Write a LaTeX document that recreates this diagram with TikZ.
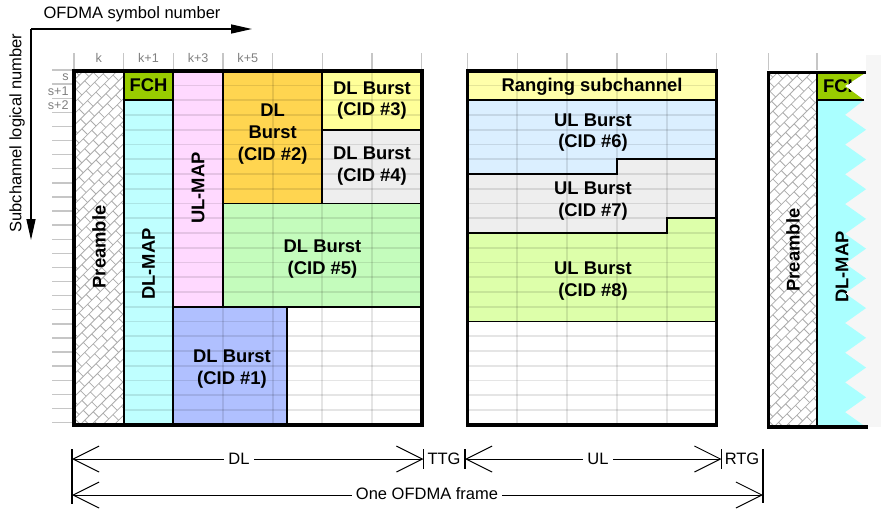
\documentclass[tikz,border=0pt]{standalone}
\usepackage{fontspec}
\setmainfont{Liberation Sans}
\usetikzlibrary{arrows.meta}
\usetikzlibrary{calc}

\definecolor{fchgreen}{RGB}{153,204,0}
\definecolor{mapcyan}{RGB}{191,255,255}
\definecolor{mapcyanr}{RGB}{170,255,255}
\definecolor{ulmappink}{RGB}{255,217,255}
\definecolor{burstorange}{RGB}{255,213,80}
\definecolor{burstyellow}{RGB}{255,255,153}
\definecolor{burstgray}{RGB}{238,238,238}
\definecolor{burstgreen}{RGB}{196,252,188}
\definecolor{burstblue}{RGB}{176,192,255}
\definecolor{rangingyellow}{RGB}{255,255,170}
\definecolor{burstsky}{RGB}{219,239,255}
\definecolor{burstlime}{RGB}{221,255,170}
\definecolor{sidegray}{RGB}{246,246,246}

\tikzset{
  frame/.style={line width=1.8pt},
  cell/.style={draw=black, line width=0.9pt},
  gridline/.style={draw=black, draw opacity=0.1, line width=0.9pt},
  tickline/.style={draw=gray!45, line width=0.7pt},
  ticklabel/.style={text=gray, font=\fontsize{6.3}{7}\selectfont, inner sep=0pt},
  lbl/.style={font=\fontsize{9.2}{10.8}\selectfont\bfseries, align=center, inner sep=0pt},
  axis/.style={line width=0.75pt, -{Triangle[length=10.5pt,width=4.5pt]}},
  axistext/.style={font=\fontsize{8.25}{10}\selectfont, inner sep=0pt},
  dim/.style={line width=0.5pt, {Straight Barb[length=13pt,width=13pt]}-{Straight Barb[length=13pt,width=13pt]}},
  bar/.style={line width=0.6pt},
  dimtext/.style={font=\fontsize{8.25}{10}\selectfont, fill=white, inner sep=2pt},
  brickline/.style={draw=gray!65, line width=0.4pt},
}

% diagonal bricks inside a box
\newcommand{\hatchbricks}[4]{%
  \begin{scope}
    \clip (#1,#2) rectangle (#3,#4);
    \begin{scope}[shift={({(#1+#3)/2},{(#2+#4)/2})}, rotate=45]
      \foreach \v in {-24,...,24}{
        \pgfmathtruncatemacro{\brickoff}{mod(\v+100,2)*6}
        \draw[brickline] (-190,\v*8) -- (190,\v*8)
          foreach \u in {-16,...,16}{ (\u*12+\brickoff,\v*8) -- ++(0,8) };
      }
    \end{scope}
  \end{scope}}

\newcommand{\fchnotch}{(817,72.5) -- (866,72.5) -- (845,86) -- (864,100) -- (817,100) -- cycle}
\newcommand{\mapzigzag}{(817,100) -- (864,100)
  foreach \k in {0,...,10}{ -- (845,{100+29.73*(\k+0.5)}) -- (866,{100+29.73*(\k+1)}) }
  -- (817,427) -- cycle}

\begin{document}
\begin{tikzpicture}[x=0.5pt,y=-0.5pt]
\fill[white] (0,0) rectangle (881,509);
\useasboundingbox (0,0) rectangle (881,509);

% axes
\coordinate (orig) at (31,29);
\coordinate (symend) at (252,29);
\coordinate (subend) at (31,240);
\draw[axis] (orig) -- (symend);
\draw[axis] (orig) -- (subend);
\node[axistext, anchor=base] (symlabel) at (132,18.3) {OFDMA symbol number};
\node[axistext, rotate=90] (sublabel) at (17,133) {Subchannel logical number};

% ticks
\foreach \j in {0,...,7} \draw[tickline] ({74+49.67*\j},53) -- ({74+49.67*\j},70);
\foreach \j in {0,...,5} \draw[tickline] ({467.5+49.8*\j},53) -- ({467.5+49.8*\j},70);
\foreach \x in {768.3,817} \draw[tickline] (\x,53) -- (\x,70);
\foreach \t [count=\j from 0] in {k,k+1,k+3,k+5}
  \node[ticklabel] (col\j) at ({98.8+49.67*\j},57.5) {\t};
\foreach \i in {0,...,25} \draw[tickline] (52,{70+14.1*\i}) -- (72,{70+14.1*\i});
\foreach \t [count=\i from 0] in {s,s+1,s+2}
  \node[ticklabel, anchor=east] (row\i) at (69,{77+14.1*\i}) {\t};

% DL subframe
\draw[cell, fill=white] (74,70.7) rectangle (123.7,424.7);
\hatchbricks{74}{70.7}{123.7}{424.7}
\draw[cell] (74,70.7) rectangle (123.7,424.7);
\draw[cell, fill=fchgreen] (123.7,70.7) rectangle (173.3,100.2);
\draw[cell, fill=mapcyan] (123.7,100.2) rectangle (173.3,424.7);
\draw[cell, fill=ulmappink] (173.3,70.7) rectangle (223,306.7);
\draw[cell, fill=burstorange] (223,70.7) rectangle (322.3,203.45);
\draw[cell, fill=burstyellow] (322.3,70.7) rectangle (421.7,129.7);
\draw[cell, fill=burstgray] (322.3,129.7) rectangle (421.7,203.45);
\draw[cell, fill=burstgreen] (223,203.45) rectangle (421.7,306.7);
\draw[cell, fill=burstblue] (173.3,306.7) rectangle (286.7,424.7);
\foreach \i in {2,...,23} \draw[gridline] (123.7,{70.7+14.75*\i}) -- (421.7,{70.7+14.75*\i});
\draw[gridline] (173.3,85.45) -- (421.7,85.45);
\foreach \x in {223,272.67,322.33,372} \draw[gridline] (\x,70.7) -- (\x,424.7);
\draw[frame] (74,70.7) rectangle (421.7,424.7);

% UL subframe
\draw[cell, fill=rangingyellow] (467.5,70.7) rectangle (716.5,100.2);
\draw[cell, fill=burstsky] (467.5,100.2) -- (716.5,100.2) -- (716.5,159.2) -- (616.9,159.2)
  -- (616.9,173.95) -- (467.5,173.95) -- cycle;
\draw[cell, fill=burstgray] (467.5,173.95) -- (616.9,173.95) -- (616.9,159.2) -- (716.5,159.2)
  -- (716.5,218.2) -- (666.7,218.2) -- (666.7,232.95) -- (467.5,232.95) -- cycle;
\draw[cell, fill=burstlime] (467.5,232.95) -- (666.7,232.95) -- (666.7,218.2) -- (716.5,218.2)
  -- (716.5,321.45) -- (467.5,321.45) -- cycle;
\foreach \i in {1,...,23} \draw[gridline] (467.5,{70.7+14.75*\i}) -- (716.5,{70.7+14.75*\i});
\foreach \x in {517.3,567.1,616.9,666.7} \draw[gridline] (\x,70.7) -- (\x,424.7);
\draw[frame] (467.5,70.7) rectangle (716.5,424.7);

% next frame
\fill[sidegray] (866,55) rectangle (881,427);
\fill[sidegray] (845,100) rectangle (866,427);
\fill[white] (768.3,72.5) rectangle (817,427);
\hatchbricks{768.3}{72.5}{817}{427}
\fill[fchgreen] \fchnotch;
\fill[mapcyanr] \mapzigzag;
\draw[cell] (817,100) -- (864,100);
\draw[cell] (817,72.5) -- (817,427);
\draw[frame] (866,72.5) -- (768.3,72.5) -- (768.3,427) -- (868,427);

% labels
\node[lbl, rotate=90] (pre) at (99,247) {Preamble};
\node[lbl] (fch) at (148.5,85.5) {FCH};
\node[lbl, rotate=90] (dlmap) at (148.5,264) {DL-MAP};
\node[lbl, rotate=90] (ulmap) at (198.2,188) {UL-MAP};
\node[lbl] (cid2) at (272.7,134) {DL\\Burst\\(CID \#2)};
\node[lbl] (cid3) at (372,100.5) {DL Burst\\(CID \#3)};
\node[lbl] (cid4) at (372,166) {DL Burst\\(CID \#4)};
\node[lbl] (cid5) at (322.5,259) {DL Burst\\(CID \#5)};
\node[lbl] (cid1) at (232,369) {DL Burst\\(CID \#1)};
\node[lbl] (ranging) at (592,86.5) {Ranging subchannel};
\node[lbl] (cid6) at (593,132.5) {UL Burst\\(CID \#6)};
\node[lbl] (cid7) at (593,201) {UL Burst\\(CID \#7)};
\node[lbl] (cid8) at (593,281) {UL Burst\\(CID \#8)};
\node[lbl, rotate=90] (prenext) at (793,250) {Preamble};
\begin{scope}
  \clip \fchnotch;
  \node[lbl] (fchnext) at (842,86.5) {FCH};
\end{scope}
\begin{scope}
  \clip \mapzigzag;
  \node[lbl, rotate=90] (dlmapnext) at (842,267) {DL-MAP};
\end{scope}

% frame timing
\coordinate (dlL) at (72,459);
\coordinate (dlR) at (423.5,459);
\coordinate (ulL) at (465,459);
\coordinate (ulR) at (721.5,459);
\coordinate (frL) at (72,495);
\coordinate (frR) at (763,495);
\draw[bar] ($(dlL)+(0,-10)$) -- ($(frL)+(0,9)$);
\draw[bar] ($(dlR)+(0,-10)$) -- ($(dlR)+(0,10)$);
\draw[bar] ($(ulL)+(0,-10)$) -- ($(ulL)+(0,10)$);
\draw[bar] ($(ulR)+(0,-10)$) -- ($(ulR)+(0,10)$);
\draw[bar] ($(frR)+(0,-46)$) -- ($(frR)+(0,8)$);
\draw[dim] (dlL) -- (dlR);
\draw[dim] (ulL) -- (ulR);
\draw[dim] (frL) -- (frR);
\node[dimtext] (dltext) at (239,459) {DL};
\node[dimtext, fill=none] (ttg) at (444,459) {TTG};
\node[dimtext] (ultext) at (598,459) {UL};
\node[dimtext, fill=none] (rtg) at (742,459) {RTG};
\node[dimtext] (frametext) at (427,494) {One OFDMA frame};
\end{tikzpicture}
\end{document}
